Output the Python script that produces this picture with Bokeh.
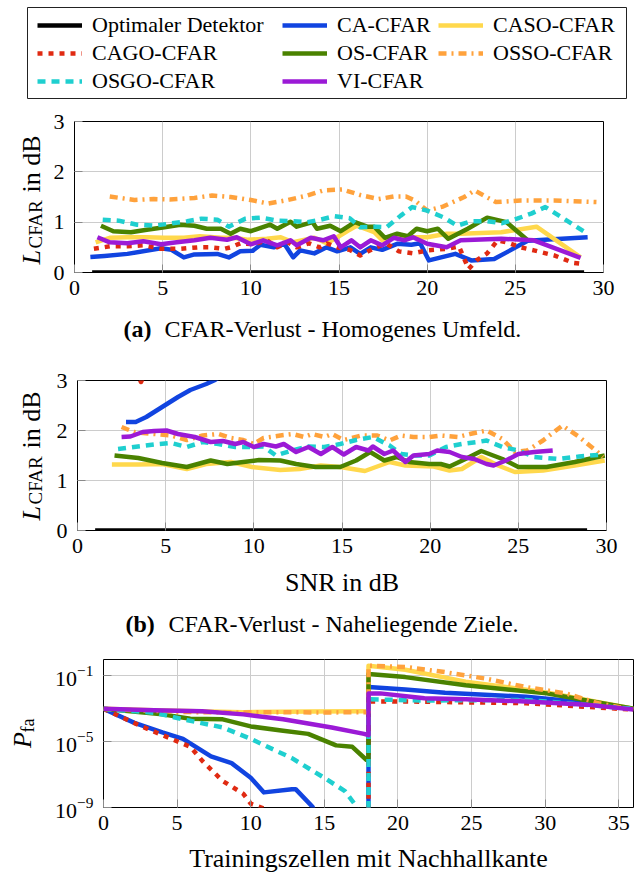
from bokeh.plotting import figure
from bokeh.layouts import row
from bokeh.models import Range1d, FixedTicker, Legend, LegendItem, Label
from bokeh.embed import file_html
from bokeh.resources import INLINE

FONT = "Liberation Serif"

SERIES = ["Optimaler Detektor", "CA-CFAR", "CASO-CFAR", "CAGO-CFAR",
          "OS-CFAR", "OSSO-CFAR", "OSGO-CFAR", "VI-CFAR"]
COLORS = ["#000000", "#1144e0", "#ffd84c", "#e02a12",
          "#4a8200", "#ffa23c", "#1fcfcf", "#9b1ad6"]
DASHES = ["solid", "solid", "solid", "5 6", "solid", "8 5 2 5", "8 6", "solid"]

# ---------------- (a) CFAR-Verlust - Homogenes Umfeld ----------------
opt_a_x = [1.0, 28.9]
opt_a_y = [0.0, 0.0]
ca_a_x = [0.9, 1.7, 3.0, 4.9, 5.5, 6.2, 6.8, 8.1, 8.75, 9.4, 10.1, 10.55, 11.3, 11.9, 12.4, 12.8,
          13.6, 14.3, 14.9, 15.65, 16.2, 16.8, 17.45, 18.3, 19.1, 19.6, 20.1, 21.6, 22.5, 23.8,
          24.5, 25.7, 29.1]
ca_a_y = [0.31, 0.33, 0.37, 0.48, 0.45, 0.30, 0.36, 0.37, 0.30, 0.42, 0.43, 0.55, 0.50, 0.57, 0.30,
          0.44, 0.38, 0.50, 0.42, 0.50, 0.37, 0.50, 0.45, 0.57, 0.55, 0.58, 0.24, 0.37, 0.24, 0.27,
          0.40, 0.63, 0.70]
caso_a_x = [1.2, 2.0, 3.0, 4.1, 5.1, 6.2, 7.1, 8.3, 9.0, 9.8, 10.9, 11.7, 12.4, 13.6, 14.3, 14.9,
            15.5, 16.0, 17.0, 17.45, 18.3, 19.2, 20.0, 21.1, 21.9, 24.2, 26.2, 28.7]
caso_a_y = [0.60, 0.69, 0.70, 0.70, 0.69, 0.69, 0.72, 0.69, 0.69, 0.65, 0.67, 0.70, 0.60, 0.69,
            0.58, 0.70, 0.83, 0.93, 0.80, 0.64, 0.74, 0.70, 0.70, 0.77, 0.77, 0.80, 0.91, 0.30]
cago_a_x = [1.1, 2.0, 3.0, 3.9, 4.9, 6.0, 7.0, 7.7, 8.5, 8.85, 9.4, 10.2, 10.9, 11.5, 12.1, 12.6,
            13.3, 13.9, 14.3, 14.9, 15.6, 16.2, 17.1, 17.7, 18.4, 19.2, 20.0, 21.1, 21.8, 22.35,
            22.8, 23.4, 24.0, 24.5, 25.3, 26.05, 27.2, 28.3, 28.8]
cago_a_y = [0.47, 0.52, 0.52, 0.54, 0.47, 0.47, 0.50, 0.50, 0.47, 0.50, 0.58, 0.56, 0.64, 0.50,
            0.60, 0.50, 0.58, 0.50, 0.58, 0.50, 0.45, 0.34, 0.50, 0.57, 0.42, 0.38, 0.44, 0.47,
            0.52, 0.07, 0.24, 0.38, 0.64, 0.60, 0.50, 0.44, 0.34, 0.19, 0.17]
os_a_x = [1.5, 2.2, 3.2, 4.1, 5.1, 6.0, 6.8, 7.5, 8.3, 8.85, 9.4, 10.0, 11.1, 11.5, 12.25, 12.6,
          13.5, 13.75, 14.5, 15.1, 15.9, 16.6, 17.0, 17.6, 18.3, 18.9, 19.4, 20.0, 20.6, 21.2,
          22.3, 23.4, 24.5, 25.7]
os_a_y = [0.93, 0.82, 0.80, 0.85, 0.90, 0.95, 0.93, 0.87, 0.87, 0.77, 0.87, 0.82, 0.95, 0.87,
          1.01, 0.91, 1.00, 0.87, 0.93, 0.82, 1.00, 0.91, 0.91, 0.69, 0.77, 0.72, 0.87, 0.82,
          0.87, 0.67, 0.87, 1.09, 1.00, 0.64]
osso_a_x = [2.0, 3.4, 4.5, 5.4, 6.8, 7.8, 8.85, 10.0, 11.0, 12.1, 13.2, 14.1, 15.2, 16.2, 17.25,
            18.1, 18.8, 19.3, 20.0, 20.9, 22.1, 22.7, 23.2, 23.9, 25.3, 27.2, 29.6]
osso_a_y = [1.51, 1.44, 1.46, 1.45, 1.48, 1.53, 1.50, 1.44, 1.37, 1.44, 1.53, 1.63, 1.65, 1.54,
            1.46, 1.51, 1.51, 1.43, 1.23, 1.31, 1.50, 1.63, 1.53, 1.40, 1.43, 1.43, 1.40]
osgo_a_x = [1.6, 2.5, 3.55, 4.5, 5.4, 6.4, 7.2, 8.1, 8.75, 9.7, 10.55, 11.5, 12.4, 13.2, 13.95,
            14.75, 15.6, 16.2, 17.1, 17.7, 18.5, 19.15, 20.0, 20.9, 21.7, 22.5, 23.4, 24.25, 25.1,
            25.9, 26.7, 27.75, 28.5, 29.1]
osgo_a_y = [1.05, 1.03, 0.95, 0.93, 0.97, 1.02, 1.07, 1.05, 0.91, 1.07, 1.09, 1.03, 1.02, 1.00,
            1.05, 1.12, 1.08, 0.90, 0.91, 0.90, 1.13, 1.30, 1.23, 1.10, 0.93, 1.02, 1.02, 0.98,
            1.07, 1.17, 1.30, 1.07, 0.90, 0.77]
vi_a_x = [1.3, 2.0, 3.0, 3.9, 4.9, 5.8, 6.8, 7.7, 8.65, 9.2, 10.0, 10.7, 11.5, 12.25, 12.6, 13.4,
          14.1, 14.7, 15.1, 15.7, 16.2, 16.8, 17.45, 18.1, 18.7, 19.2, 20.0, 21.1, 21.9, 24.2,
          26.05, 28.7]
vi_a_y = [0.70, 0.60, 0.58, 0.62, 0.56, 0.60, 0.64, 0.69, 0.65, 0.70, 0.56, 0.64, 0.54, 0.64,
          0.54, 0.69, 0.64, 0.72, 0.50, 0.64, 0.50, 0.64, 0.54, 0.69, 0.64, 0.70, 0.57, 0.50,
          0.64, 0.67, 0.64, 0.29]

# ---------------- (b) CFAR-Verlust - Naheliegende Ziele ----------------
opt_b_x = [1.0, 28.9]
opt_b_y = [0.0, 0.0]
ca_b_x = [2.75, 3.3, 3.9, 4.8, 5.7, 6.4, 7.3, 7.8, 9.0]
ca_b_y = [2.17, 2.17, 2.27, 2.47, 2.67, 2.81, 2.93, 3.01, 3.3]
caso_b_x = [1.95, 3.45, 4.8, 6.2, 7.3, 8.7, 9.9, 11.5, 12.6, 13.8, 14.9, 16.3, 17.7, 18.6, 20.2,
            21.1, 21.8, 22.9, 23.85, 24.8, 26.4, 28.2, 29.9]
caso_b_y = [1.32, 1.32, 1.33, 1.23, 1.33, 1.37, 1.27, 1.21, 1.23, 1.30, 1.27, 1.19, 1.37, 1.30,
            1.28, 1.20, 1.23, 1.47, 1.30, 1.17, 1.20, 1.30, 1.40]
cago_b_x = [3.0, 3.6, 4.3]
cago_b_y = [3.4, 2.97, 3.5]
os_b_x = [2.1, 3.45, 4.8, 6.2, 7.55, 8.5, 9.4, 10.3, 11.5, 12.4, 13.5, 14.9, 15.8, 16.6, 17.4,
          18.1, 18.8, 19.95, 20.6, 21.1, 22.0, 22.9, 24.1, 25.0, 26.6, 28.2, 29.9]
os_b_y = [1.50, 1.45, 1.35, 1.27, 1.40, 1.33, 1.37, 1.41, 1.40, 1.33, 1.27, 1.27, 1.40, 1.57,
          1.40, 1.47, 1.37, 1.33, 1.33, 1.28, 1.43, 1.59, 1.43, 1.27, 1.27, 1.37, 1.50]
osso_b_x = [2.5, 3.2, 4.35, 5.3, 6.2, 7.1, 8.0, 8.7, 9.4, 10.0, 10.55, 11.5, 12.2, 12.85, 13.3,
            14.0, 14.45, 15.1, 16.1, 17.0, 17.7, 18.35, 19.05, 19.95, 20.6, 21.55, 22.25, 23.2,
            24.1, 24.8, 25.5, 26.4, 27.5, 28.45, 29.4, 29.8]
osso_b_y = [2.07, 1.97, 1.93, 1.90, 1.81, 1.90, 1.93, 1.85, 1.81, 1.73, 1.85, 1.90, 1.93, 1.87,
            1.93, 1.87, 1.93, 1.81, 1.90, 1.90, 1.80, 1.90, 1.87, 1.87, 1.90, 1.87, 1.93, 2.00,
            1.83, 1.57, 1.60, 1.80, 2.10, 1.87, 1.60, 1.47]
osgo_b_x = [2.3, 3.2, 4.35, 5.3, 6.2, 7.1, 8.0, 8.95, 9.9, 10.55, 11.25, 12.15, 13.1, 14.0, 14.9,
            15.8, 16.75, 17.7, 18.35, 19.05, 19.95, 20.9, 21.8, 22.7, 23.2, 24.1, 25.0, 25.9,
            27.3, 28.45, 29.8]
osgo_b_y = [1.63, 1.67, 1.72, 1.75, 1.67, 1.77, 1.73, 1.67, 1.67, 1.68, 1.50, 1.60, 1.68, 1.67,
            1.73, 1.81, 1.87, 1.70, 1.53, 1.50, 1.50, 1.67, 1.73, 1.77, 1.80, 1.67, 1.60, 1.47,
            1.43, 1.48, 1.52]
vi_b_x = [2.5, 3.0, 3.7, 4.35, 5.05, 5.7, 6.65, 7.55, 8.25, 8.95, 9.4, 10.0, 10.55, 11.25, 11.7,
          12.4, 13.1, 13.8, 14.45, 15.1, 15.8, 16.5, 16.75, 17.4, 17.9, 18.6, 19.05, 19.95, 20.4,
          21.1, 21.8, 22.5, 23.2, 23.6, 24.3, 25.0, 25.9, 26.95]
vi_b_y = [1.87, 1.88, 1.97, 1.99, 2.00, 1.93, 1.87, 1.77, 1.79, 1.73, 1.77, 1.67, 1.73, 1.68,
          1.73, 1.57, 1.67, 1.53, 1.67, 1.52, 1.67, 1.60, 1.68, 1.53, 1.60, 1.37, 1.50, 1.53,
          1.60, 1.57, 1.47, 1.43, 1.33, 1.30, 1.40, 1.53, 1.57, 1.60]

# ---------------- (c) Pfa vs. Trainingszellen mit Nachhallkante ----------------
ca_c_x = [0, 2.1, 4.0, 5.4, 7.3, 8.7, 10.0, 10.9, 12.8, 13.05, 14.2, 15.0, 18, 18, 20.5, 23.2,
          28.7, 32.8, 36]
ca_c_y = [1.0e-3, 1.4e-4, 3.7e-5, 1.5e-5, 1.3e-6, 5.0e-7, 6.5e-8, 8.3e-9, 1.3e-8, 1.3e-8,
          1.1e-9, 1e-11, 1e-11, 2.1e-2, 1.5e-2, 9.5e-3, 5.5e-3, 2.4e-3, 1.0e-3]
caso_c_x = [0, 4.0, 9.5, 14.0, 17.7, 18, 18, 20.5, 24.6, 30.1, 36]
caso_c_y = [1.0e-3, 7.9e-4, 6.3e-4, 6.8e-4, 7.1e-4, 7.1e-4, 4.2e-1, 2.4e-1, 4.5e-2, 1.0e-2,
            1.0e-3]
cago_c_x = [0, 2.6, 4.6, 5.9, 6.75, 8.1, 9.5, 10.0, 10.9, 11.5, 18, 18, 20.5, 28.7, 36]
cago_c_y = [1.0e-3, 8.5e-5, 1.5e-5, 4.9e-6, 6.3e-7, 4.1e-8, 6.8e-9, 1.7e-9, 8.7e-10, 1e-11,
            1e-11, 2.8e-3, 2.8e-3, 2.2e-3, 8.9e-4]
os_c_x = [0, 4.0, 5.9, 8.1, 10.0, 12.2, 13.9, 15.8, 16.9, 17.85, 18, 18, 20.5, 24.6, 30.1, 36]
os_c_y = [1.0e-3, 4.6e-4, 2.5e-4, 2.3e-4, 8.5e-5, 4.7e-5, 3.0e-5, 6.0e-6, 4.9e-6, 8.0e-7,
          8.0e-7, 1.3e-1, 8.5e-2, 2.7e-2, 8.7e-3, 1.0e-3]
osso_c_x = [0, 3, 6, 9, 12, 15, 17.7, 18, 18, 20.5, 23.2, 26.0, 28.7, 31.4, 33.6, 36]
osso_c_y = [1.0e-3, 7.6e-4, 6.3e-4, 6.0e-4, 6.3e-4, 6.0e-4, 6.3e-4, 6.3e-4, 4.2e-1, 3.5e-1,
            1.7e-1, 6.8e-2, 2.1e-2, 8.7e-3, 2.2e-3, 8.9e-4]
osgo_c_x = [0, 3.45, 5.4, 8.1, 10.0, 12.8, 15.0, 16.4, 17.2, 17.6, 18, 18, 21.8, 28.7, 36]
osgo_c_y = [1.0e-3, 5.8e-4, 2.3e-4, 7.4e-5, 1.5e-5, 1.0e-6, 6.3e-8, 1.0e-8, 1.1e-9, 1e-11,
            1e-11, 3.8e-3, 3.2e-3, 3.5e-3, 1.0e-3]
vi_c_x = [0, 3.45, 6.7, 9.5, 12.2, 15.5, 17.7, 18, 18, 18.8, 21.8, 24.6, 28.7, 32.8, 36]
vi_c_y = [1.0e-3, 8.1e-4, 7.1e-4, 4.6e-4, 2.3e-4, 7.4e-5, 3.0e-5, 2.5e-5, 8.7e-3, 8.7e-3,
          4.4e-3, 3.8e-3, 2.8e-3, 1.8e-3, 9.0e-4]

snr_ticks = [0, 5, 10, 15, 20, 25, 30]
loss_ticks = [0, 1, 2, 3]
cell_ticks = [0, 5, 10, 15, 20, 25, 30, 35]
pfa_ticks = [1e-9, 1e-5, 1e-1]

W = 634
LW = 50  # width of the strip that carries each panel's y-axis title


def panel(height, bl, br, bt, bb, xr, yr, xt, yt, log=False):
    p = figure(width=W - LW, height=height, x_range=Range1d(*xr), y_range=Range1d(*yr),
               y_axis_type="log" if log else "linear", output_backend="svg",
               toolbar_location=None, min_border_left=bl, min_border_right=br,
               min_border_top=bt, min_border_bottom=bb)
    p.xaxis.ticker = FixedTicker(ticks=xt, minor_ticks=[])
    p.yaxis.ticker = FixedTicker(ticks=yt, minor_ticks=[])
    for ax in (p.xaxis, p.yaxis):
        ax.axis_line_color = None
        ax.major_tick_in = 8
        ax.major_tick_out = 0
        ax.major_tick_line_color = "#8a8a8a"
        ax.minor_tick_line_color = None
        ax.major_label_text_font = FONT
        ax.major_label_text_font_size = "22px"
        ax.major_label_text_color = "black"
        ax.axis_label_text_color = "black"
    p.xaxis.major_label_standoff = 8
    p.yaxis.major_label_standoff = 10
    p.grid.grid_line_color = "#cccccc"
    p.grid.grid_line_width = 1
    p.outline_line_color = "black"
    p.outline_line_width = 1
    p.background_fill_color = "white"
    p.border_fill_color = "white"
    return p


def text_strip(width, height, bt, bb):
    """Blank figure whose frame (pixel-sized ranges) carries text annotations."""
    fh = height - bt - bb
    s = figure(width=width, height=height, x_range=Range1d(0, width), y_range=Range1d(0, fh),
               output_backend="svg", toolbar_location=None, x_axis_location=None,
               y_axis_location=None, min_border_left=0, min_border_right=0,
               min_border_top=bt, min_border_bottom=bb)
    s.grid.visible = False
    s.outline_line_color = None
    s.background_fill_color = "white"
    s.border_fill_color = "white"
    return s


def draw(p, xs, ys, i):
    return p.line(xs, ys, line_color=COLORS[i], line_width=4.5, line_dash=DASHES[i],
                  line_join="round")


def lab(p, x, y, text, size, style="normal", angle=0.0, baseline="alphabetic"):
    p.add_layout(Label(x=x, y=y, text=text, angle=angle, text_font=FONT,
                       text_font_size=size, text_font_style=style, text_align="left",
                       text_baseline=baseline, text_color="black"))


ROT = 1.5707963267948966

A_DATA = [(opt_a_x, opt_a_y), (ca_a_x, ca_a_y), (caso_a_x, caso_a_y), (cago_a_x, cago_a_y),
          (os_a_x, os_a_y), (osso_a_x, osso_a_y), (osgo_a_x, osgo_a_y), (vi_a_x, vi_a_y)]
B_DATA = [(opt_b_x, opt_b_y), (ca_b_x, ca_b_y), (caso_b_x, caso_b_y), (cago_b_x, cago_b_y),
          (os_b_x, os_b_y), (osso_b_x, osso_b_y), (osgo_b_x, osgo_b_y), (vi_b_x, vi_b_y)]
C_DATA = [(ca_c_x, ca_c_y), (caso_c_x, caso_c_y), (cago_c_x, cago_c_y), (os_c_x, os_c_y),
          (osso_c_x, osso_c_y), (osgo_c_x, osgo_c_y), (vi_c_x, vi_c_y)]

# ---- legend figure (series drawn outside its visible range, only the legend shows) ----
leg = figure(width=W, height=100, x_range=Range1d(100, 101), y_range=Range1d(100, 101),
             output_backend="svg", toolbar_location=None, x_axis_location=None,
             y_axis_location=None, min_border_left=27, min_border_right=8,
             min_border_top=7, min_border_bottom=2)
leg.grid.visible = False
leg.outline_line_color = "#222222"
leg.outline_line_width = 1
rends = [draw(leg, xs, ys, i) for i, (xs, ys) in enumerate(A_DATA)]
cols = [[0, 3, 6], [1, 4, 7], [2, 5]]
positions = [(10, 4), (255, 4), (411, 32)]
for col, loc in zip(cols, positions):
    items = [LegendItem(label=SERIES[i], renderers=[rends[i]]) for i in col]
    lg = Legend(items=items, location=loc, orientation="vertical", padding=0, margin=0,
                spacing=2, glyph_width=45, glyph_height=26, label_height=26,
                label_standoff=10, label_text_font=FONT, label_text_font_size="22px",
                label_text_color="black", border_line_color=None, background_fill_alpha=0)
    leg.add_layout(lg)

# ---- panel a (page y 100..310) ----
pa = panel(210, 24, 31, 21, 38, (0, 30), (0, 3), snr_ticks, loss_ticks)
for i, (xs, ys) in enumerate(A_DATA):
    draw(pa, xs, ys, i)
ya = text_strip(LW, 210, 21, 38)
lab(ya, 31, 8, "L", "26px", "italic", ROT)
lab(ya, 35, 24, "CFAR", "19px", "normal", ROT)
lab(ya, 31, 80, "in dB", "26px", "normal", ROT)
cap_a = text_strip(W, 40, 0, 0)
lab(cap_a, 123, 22, "(a)", "24px", "bold", baseline="middle")
lab(cap_a, 164, 22, "CFAR-Verlust - Homogenes Umfeld.", "24px", baseline="middle")

# ---- panel b (page y 350..606) ----
pb = panel(256, 27, 28, 30, 76, (0, 30), (0, 3), snr_ticks, loss_ticks)
for i, (xs, ys) in enumerate(B_DATA):
    draw(pb, xs, ys, i)
pb.xaxis.axis_label = "SNR in dB"
pb.xaxis.axis_label_text_font = FONT
pb.xaxis.axis_label_text_font_size = "26px"
pb.xaxis.axis_label_text_font_style = "normal"
pb.xaxis.axis_label_standoff = 12
yb = text_strip(LW, 256, 30, 76)
lab(yb, 31, 10, "L", "26px", "italic", ROT)
lab(yb, 35, 26, "CFAR", "19px", "normal", ROT)
lab(yb, 31, 82, "in dB", "26px", "normal", ROT)
cap_b = text_strip(W, 34, 0, 0)
lab(cap_b, 125, 17, "(b)", "24px", "bold", baseline="middle")
lab(cap_b, 168, 17, "CFAR-Verlust - Naheliegende Ziele.", "24px", baseline="middle")

# ---- panel c (page y 640..875) ----
pc = panel(235, 53, 1, 19, 64, (0, 36), (1e-9, 1.0), cell_ticks, pfa_ticks, log=True)
for i, (xs, ys) in enumerate(C_DATA):
    draw(pc, xs, ys, i + 1)
pc.xaxis.axis_label = "Trainingszellen mit Nachhallkante"
pc.xaxis.axis_label_text_font = FONT
pc.xaxis.axis_label_text_font_size = "26px"
pc.xaxis.axis_label_text_font_style = "normal"
pc.xaxis.axis_label_standoff = 11
yc = text_strip(LW, 235, 19, 64)
lab(yc, 22, 61, "P", "26px", "italic", ROT)
lab(yc, 27, 77, "fa", "18px", "normal", ROT)

roots = [leg, row(ya, pa), cap_a, row(yb, pb), cap_b, row(yc, pc)]
open("out.html", "w").write(file_html(roots, INLINE))
